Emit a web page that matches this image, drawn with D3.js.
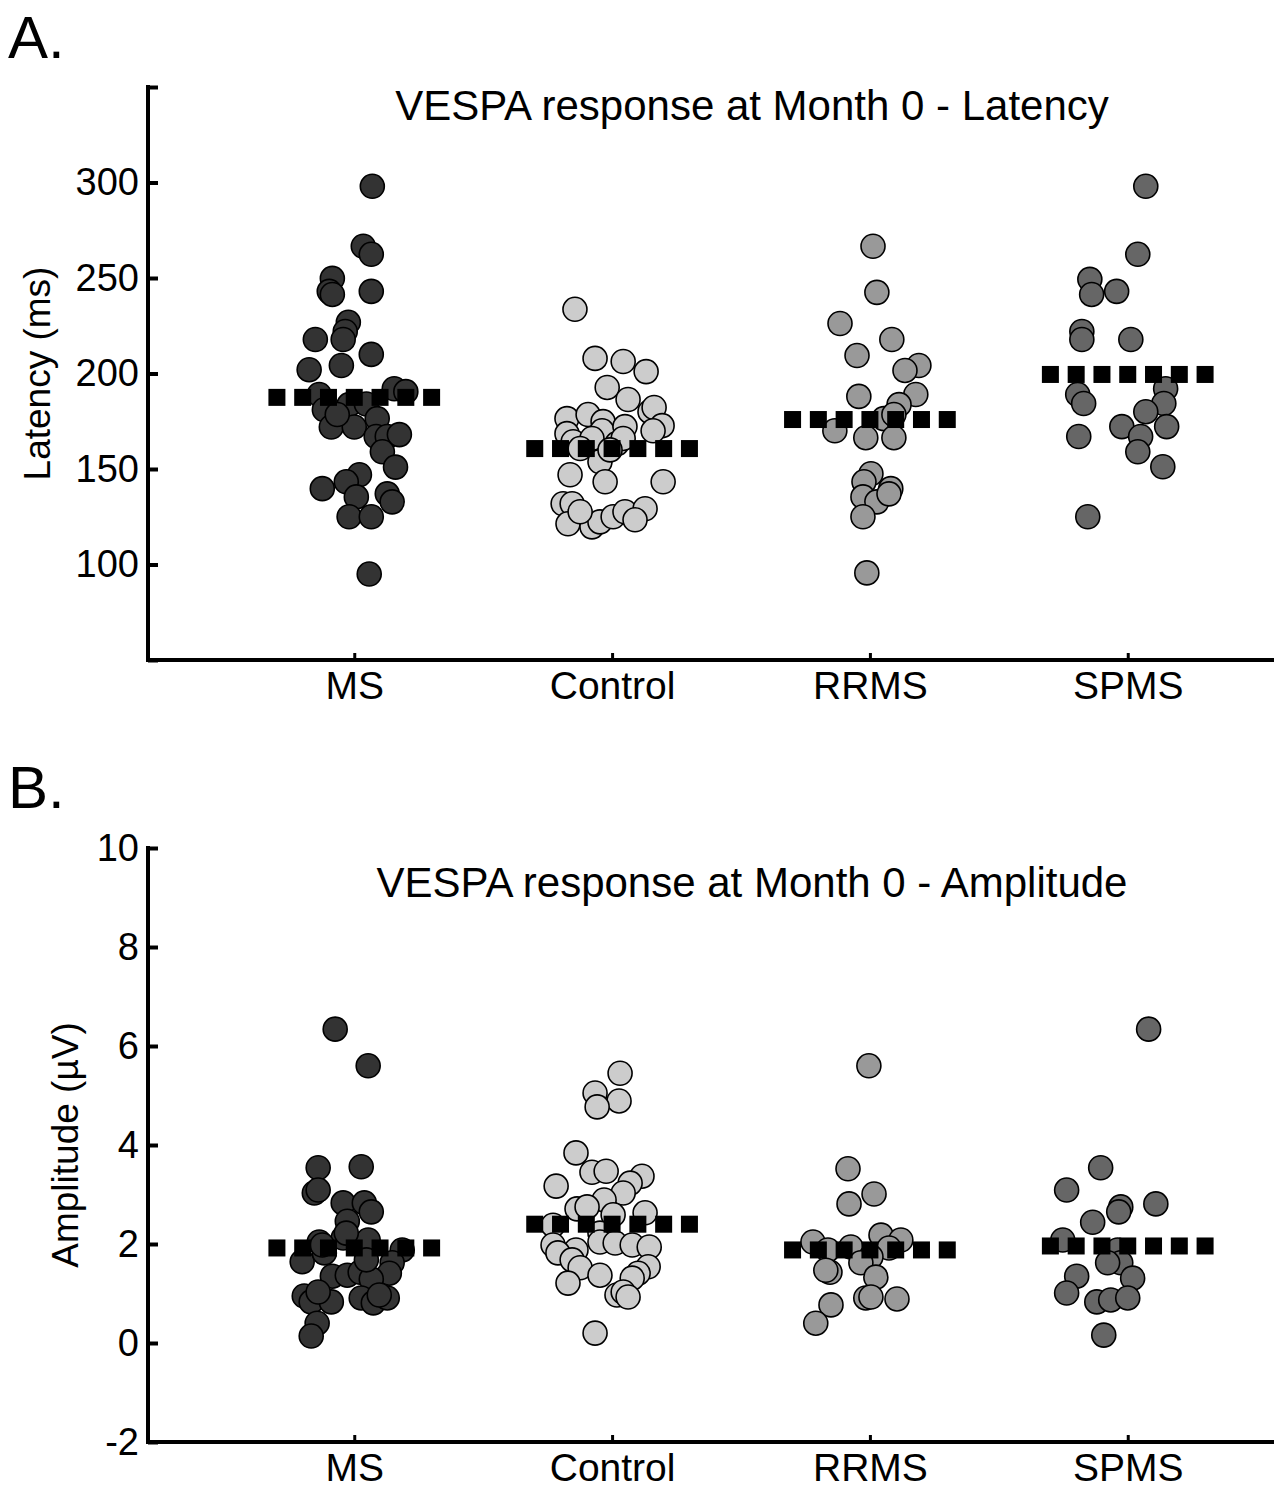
<!DOCTYPE html>
<html>
<head>
<meta charset="utf-8">
<script src="https://cdn.jsdelivr.net/npm/d3@7"></script>
<style>
  body { margin: 0; background: #fff; }
  text { font-family: Arial, "Liberation Sans", sans-serif; fill: #000; }
</style>
</head>
<body>
<script>
// #Data: each point is [x jitter (category units), value]
const groups = ['MS', 'Control', 'RRMS', 'SPMS'];

const latencyMS = [[0.07,298],[0.035,266.6],[0.066,262.4],[-0.085,249.8],[-0.097,243],[-0.085,241.4],[0.066,243],
  [-0.023,226.8],[-0.035,222],[-0.043,217.8],[-0.151,217.8],[0.066,210],[-0.175,202],[-0.05,204.2],[0.155,192],
  [0.2,190.5],[-0.136,189],[-0.116,181],[-0.02,183.7],[0.047,184],[-0.089,172],[0,172],[0.089,176.4],[0.085,167],
  [0.128,167],[0.175,168],[0.109,159],[0.16,151],[0.02,147],[-0.124,139.7],[-0.031,143.3],[0.008,135.4],[0.128,137],
  [0.147,132.8],[-0.02,125],[0.066,125],[0.058,95],[-0.066,178.5]];
const latencyControl = [[-0.144,233.6],[-0.066,207.9],[0.043,206.3],[0.132,201],[-0.019,192.7],[0.062,186.4],
  [-0.175,176.4],[-0.093,178.5],[-0.035,174.8],[0.147,180],[0.163,182.2],[0.194,172.7],[-0.175,168.5],[-0.039,170],
  [0.05,172.2],[0.159,170],[0.019,163.3],[-0.151,164.3],[-0.047,153.8],[-0.163,147],[-0.027,143.3],[0.198,143.3],
  [-0.19,131.8],[-0.155,131.8],[-0.171,121.3],[-0.078,119.7],[-0.047,122.3],[0.004,125],[0.05,127.6],[0.128,129.2],
  [0.089,123.4],[-0.124,127.6],[-0.078,166],[0.043,166],[-0.008,160],[-0.124,160.7]];
const latencyRRMS = [[0.012,266.6],[0.027,242.5],[-0.116,226.2],[0.085,217.8],[-0.05,209.4],[0.19,204.2],[0.136,201.6],
  [0.178,189],[-0.043,188],[0.113,183.7],[0.054,176.4],[0.093,178.5],[-0.136,170],[-0.016,166.4],[0.093,166.4],
  [0.004,147.5],[-0.023,143.3],[0.081,139.7],[-0.027,135.4],[0.027,132.8],[0.074,137],[-0.027,125],[-0.012,95.6]];
const latencySPMS = [[0.07,298],[0.039,262.4],[-0.147,249.3],[-0.14,241.4],[-0.043,243],[-0.178,222],[-0.178,217.8],
  [0.012,217.8],[0.147,192],[-0.194,189],[-0.171,184.3],[0.14,184.3],[0.07,180],[-0.023,172.2],[0.151,172.2],
  [-0.19,167],[0.05,167],[0.039,159],[0.136,151.2],[-0.155,125]];
const latencyMean = [187.5, 160.7, 175.9, 199.5];

const amplitudeMS = [[-0.074,6.34],[0.054,5.6],[-0.14,3.54],[0.027,3.56],[-0.155,3.03],[-0.14,3.09],[-0.043,2.83],
  [0.039,2.83],[0.066,2.65],[-0.027,2.46],[-0.043,2.12],[0.054,2.08],[-0.136,2.04],[0.186,1.88],[-0.202,1.64],
  [-0.116,1.82],[0.147,1.62],[0.136,1.41],[-0.085,1.35],[-0.027,1.37],[0.023,1.43],[0.066,1.29],[-0.194,0.95],
  [-0.167,0.83],[-0.089,0.83],[0.027,0.91],[0.074,0.81],[0.128,0.91],[-0.144,0.40],[-0.167,0.14],[-0.14,1.03],
  [0.097,0.97],[0.047,1.68],[-0.124,1.98],[-0.031,2.22]];
const amplitudeControl = [[0.031,5.45],[-0.066,5.05],[0.027,4.89],[-0.058,4.77],[-0.14,3.84],[-0.078,3.45],
  [-0.023,3.47],[0.116,3.37],[0.07,3.23],[-0.217,3.17],[0.043,3.03],[-0.031,2.89],[-0.136,2.71],[-0.097,2.75],
  [0.004,2.59],[0.128,2.63],[-0.229,2.38],[-0.047,2.22],[-0.229,1.98],[-0.14,1.88],[-0.047,2.04],[0.012,2.02],
  [0.078,1.98],[0.144,1.94],[-0.21,1.82],[-0.155,1.68],[-0.124,1.52],[-0.047,1.37],[0.14,1.54],[0.101,1.41],
  [0.078,1.31],[-0.171,1.21],[0.019,0.97],[0.043,1.03],[0.062,0.93],[-0.066,0.20]];
const amplitudeRRMS = [[-0.004,5.6],[-0.085,3.52],[0.016,3.01],[-0.081,2.81],[0.043,2.18],[0.12,2.08],[-0.221,2.04],
  [-0.074,1.94],[0.074,1.92],[-0.163,1.88],[0.004,1.74],[-0.035,1.62],[-0.155,1.43],[-0.171,1.47],[0.023,1.33],
  [-0.016,0.91],[0.105,0.89],[-0.151,0.77],[-0.21,0.40],[0.004,0.93]];
const amplitudeSPMS = [[0.081,6.34],[-0.105,3.54],[-0.237,3.09],[0.109,2.81],[-0.027,2.75],[-0.035,2.65],
  [-0.136,2.44],[-0.252,2.08],[-0.039,1.88],[-0.027,1.62],[-0.078,1.62],[0.019,1.31],[-0.198,1.35],[-0.237,1.01],
  [-0.12,0.83],[-0.066,0.87],[0,0.91],[-0.093,0.16]];
const amplitudeMean = [1.92, 2.40, 1.88, 1.96];

const latencyTicks = [50, 100, 150, 200, 250, 300, 350];
const amplitudeTicks = [-2, 0, 2, 4, 6, 8, 10];

// #Colours per group
const fills = ['#333333', '#cccccc', '#999999', '#666666'];

const width = 1274, height = 1488;
const svg = d3.select('body').append('svg')
              .attr('width', width)
              .attr('height', height);

const x = d3.scaleLinear().domain([0.2, 4.8]).range([148, 1334]);

function drawPanel(p) {
    const y = d3.scaleLinear().domain(p.domain).range([p.bottom, p.top]);
    const g = svg.append('g');

    // points
    p.series.forEach((pts, i) => {
        g.append('g').selectAll('circle')
         .data(pts)
         .enter()
         .append('circle')
         .attr('cx', d => x(i + 1 + d[0]))
         .attr('cy', d => y(d[1]))
         .attr('r', 12)
         .attr('fill', fills[i])
         .attr('stroke', '#000')
         .attr('stroke-width', 1.6);
    });

    // mean markers (thick dotted line -> squares)
    const steps = d3.range(7).map(k => -0.3 + k * 0.1);
    p.means.forEach((m, i) => {
        g.append('g').selectAll('rect')
         .data(steps)
         .enter()
         .append('rect')
         .attr('x', d => x(i + 1 + d) - 8.5)
         .attr('y', y(m) - 8.5)
         .attr('width', 17)
         .attr('height', 17)
         .attr('fill', '#000');
    });

    // y axis
    const yAxis = d3.axisLeft(y)
                    .tickValues(p.ticks)
                    .tickSize(-10)
                    .tickPadding(9)
                    .tickFormat(d => p.labelled(d) ? d : '');
    const ya = g.append('g')
                .attr('transform', 'translate(148,0)')
                .call(yAxis);
    ya.select('.domain').remove();
    ya.selectAll('.tick line').attr('stroke-width', 4);
    ya.selectAll('.tick text').style('font-size', '38px').attr('fill', '#000');

    // x axis
    const xAxis = d3.axisBottom(x)
                    .tickValues([1, 2, 3, 4])
                    .tickSize(-7)
                    .tickPadding(11)
                    .tickFormat(d => groups[d - 1]);
    const xa = g.append('g')
                .attr('transform', 'translate(0,' + p.bottom + ')')
                .call(xAxis);
    xa.select('.domain').remove();
    xa.selectAll('.tick line').attr('stroke-width', 3);
    xa.selectAll('.tick text').style('font-size', '39px').attr('fill', '#000');

    // axis lines
    g.append('line')
     .attr('x1', 148).attr('x2', 148)
     .attr('y1', p.top - 2).attr('y2', p.bottom + 2)
     .attr('stroke', '#000').attr('stroke-width', 4);
    g.append('line')
     .attr('x1', 146).attr('x2', width)
     .attr('y1', p.bottom).attr('y2', p.bottom)
     .attr('stroke', '#000').attr('stroke-width', 4);

    // titles and labels
    g.append('text')
     .attr('x', 752).attr('y', p.top + p.titleDy)
     .attr('text-anchor', 'middle')
     .style('font-size', '42px')
     .text(p.title);

    g.append('text')
     .attr('transform', 'translate(' + p.labelX + ',' + (p.top + p.bottom) / 2 + ') rotate(-90)')
     .attr('text-anchor', 'middle')
     .attr('dy', '0.35em')
     .style('font-size', '37px')
     .text(p.yLabel);

    g.append('text')
     .attr('x', 8).attr('y', p.letterY)
     .style('font-size', '60px')
     .text(p.letter);
}

drawPanel({
    domain: [50, 350], top: 87, bottom: 660,
    ticks: latencyTicks, labelled: d => d >= 100 && d <= 300,
    series: [latencyMS, latencyControl, latencyRRMS, latencySPMS],
    means: latencyMean,
    title: 'VESPA response at Month 0 - Latency', titleDy: 33,
    yLabel: 'Latency (ms)', labelX: 37,
    letter: 'A.', letterY: 58
});

drawPanel({
    domain: [-2, 10], top: 848, bottom: 1442,
    ticks: amplitudeTicks, labelled: d => true,
    series: [amplitudeMS, amplitudeControl, amplitudeRRMS, amplitudeSPMS],
    means: amplitudeMean,
    title: 'VESPA response at Month 0 - Amplitude', titleDy: 49,
    yLabel: 'Amplitude (\u00b5V)', labelX: 65,
    letter: 'B.', letterY: 808
});
</script>
</body>
</html>
